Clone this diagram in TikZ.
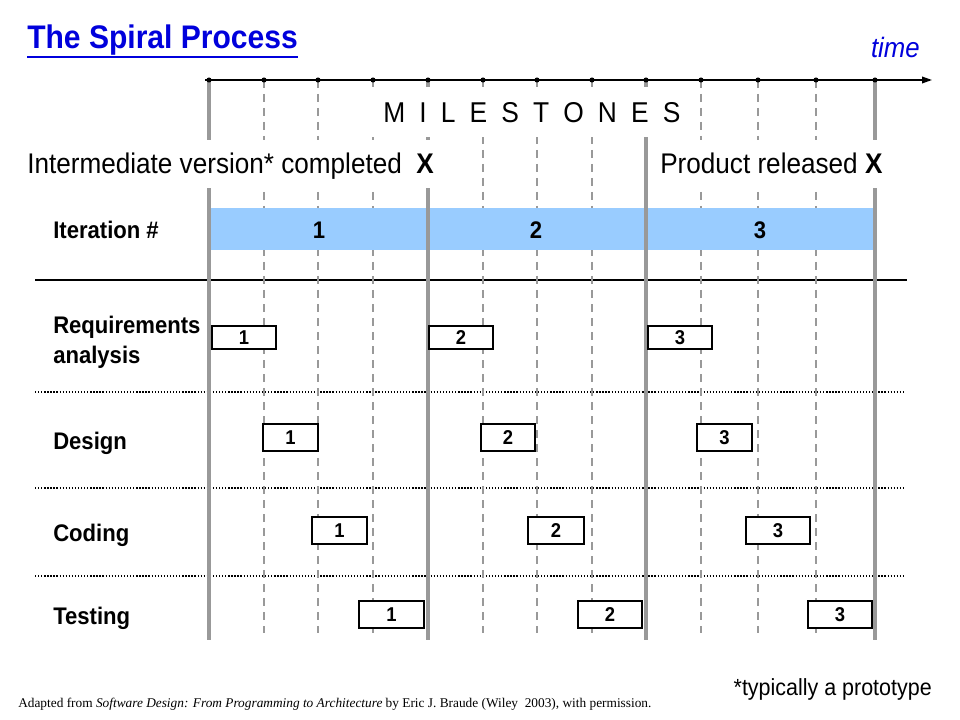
\documentclass[tikz,border=0pt]{standalone}
\usepackage{fontspec}
\setmainfont{Liberation Sans}[FakeStretch=0.92]
\newfontfamily\footfont{Liberation Serif}
\usetikzlibrary{arrows.meta}
\definecolor{titleblue}{RGB}{0,0,220}
\definecolor{barblue}{HTML}{99CCFF}
\definecolor{linegray}{HTML}{999999}
\begin{document}
\begin{tikzpicture}[x=0.75pt,y=-0.75pt,
  solidline/.style={linegray, line width=3pt},
  dashline/.style={linegray, line width=1.5pt, dash pattern=on 6pt off 4.5pt},
  dotline/.style={black, line width=1pt, dash pattern=on 1pt off 1.3pt},
  lbl/.style={anchor=base west, inner sep=0pt, font=\fontsize{18pt}{22pt}\selectfont\bfseries},
  itnum/.style={inner sep=0pt, font=\fontsize{18pt}{22pt}\selectfont\bfseries},
  mask/.style={anchor=base west, fill=white, inner ysep=0pt},
  pbox/.style={draw=black, line width=1.5pt, fill=white, inner sep=0pt,
    font=\fontsize{15pt}{17pt}\selectfont\bfseries},
  row1/.style={pbox, minimum height=17.25pt},
  row2/.style={pbox, minimum height=20.25pt}
]
\useasboundingbox (0,0) rectangle (960,720);
\fill[white] (0,0) rectangle (960,720);

% horizontal separators
\draw[black, line width=1.25pt] (35,280) -- (907,280);
\foreach \y in {392,488,576} \draw[dotline] (35,\y) -- (905,\y);

% dashed vertical lines
\foreach \x in {264,318,373,483,537,592,701,758,816} \draw[dashline] (\x,80) -- (\x,633);

% iteration bar
\node[fill=barblue, inner sep=0pt, minimum width=496.5pt, minimum height=31.5pt] (bar) at (542,229) {};

% solid milestone lines
\foreach \x in {209,428,646,875} \draw[solidline] (\x,80) -- (\x,640);

% time axis
\coordinate (t0) at (205,80);
\coordinate (t1) at (932,80);
\draw[black, line width=1.1pt, -{Triangle[length=7.5pt,width=5pt]}] (t0) -- (t1);
\foreach \x in {209,264,318,373,428,483,537,592,646,701,758,816,875} \fill[black] (\x,80) circle[radius=1.9pt];

% title and time
\node[anchor=base west, inner sep=0pt, font=\fontsize{24.5pt}{29pt}\selectfont\bfseries, text=titleblue] (title) at (27,49) {The Spiral Process};
\draw[titleblue, line width=1.5pt] ([yshift=-6pt]title.base west) -- ([yshift=-6pt]title.base east);
\node[anchor=base east, inner sep=0pt, font=\fontsize{21pt}{25pt}\selectfont\itshape, text=titleblue] (time) at (920,58) {time};

% milestones header
\node[mask, inner xsep=9.75pt, text height=27pt, text depth=10.5pt, font=\fontsize{21.5pt}{26pt}\selectfont] (ms) at (370,123) {\spaceskip=10.6pt\relax M I L E S T O N E S};

\node[mask, inner xsep=5.25pt, text height=25.5pt, text depth=10.5pt, font=\fontsize{21.3pt}{26pt}\selectfont] (inter) at (20,174) {Intermediate version* completed\ \ \textbf{X}};
\node[mask, inner xsep=5.25pt, text height=25.5pt, text depth=10.5pt, font=\fontsize{21.3pt}{26pt}\selectfont] (prod) at (653,174) {Product released \textbf{X}};

% iteration row
\node[lbl] (iter) at (53,239) {Iteration \#};
\node[itnum] (it1) at (319,230.5) {1};
\node[itnum] (it2) at (536,230.5) {2};
\node[itnum] (it3) at (760,230.5) {3};

% row labels
\node[lbl] (reqa) at (53,333) {Requirements};
\node[lbl] (reqb) at (53,363) {analysis};
\node[lbl] (des) at (53,449) {Design};
\node[lbl] (cod) at (53,541) {Coding};
\node[lbl] (tes) at (53,624) {Testing};

% activity boxes
\node[row1, minimum width=48pt] (r1a) at (244,337.5) {1};
\node[row1, minimum width=48pt] (r1b) at (461,337.5) {2};
\node[row1, minimum width=48pt] (r1c) at (680,337.5) {3};

\node[row2, minimum width=40.9pt] (r2a) at (290.5,437.5) {1};
\node[row2, minimum width=40.9pt] (r2b) at (508,437.5) {2};
\node[row2, minimum width=40.9pt] (r2c) at (724.5,437.5) {3};

\node[row2, minimum width=41.6pt] (r3a) at (339.5,530.5) {1};
\node[row2, minimum width=41.6pt] (r3b) at (556,530.5) {2};
\node[row2, minimum width=48pt] (r3c) at (778,530.5) {3};

\node[row2, minimum width=48.4pt] (r4a) at (391.5,614.5) {1};
\node[row2, minimum width=48.4pt] (r4b) at (610,614.5) {2};
\node[row2, minimum width=48.4pt] (r4c) at (840,614.5) {3};

% footnotes
\node[anchor=base east, inner sep=0pt, font=\fontsize{17.5pt}{21pt}\selectfont] (note) at (932,695) {*typically a prototype};
\node[anchor=base west, inner sep=0pt, font=\footfont\fontsize{10pt}{12pt}\selectfont] (foot) at (18,707) {Adapted from \textit{Software Design: From Programming to Architecture} by Eric J. Braude (Wiley\ \ 2003), with permission.};
\end{tikzpicture}
\end{document}
